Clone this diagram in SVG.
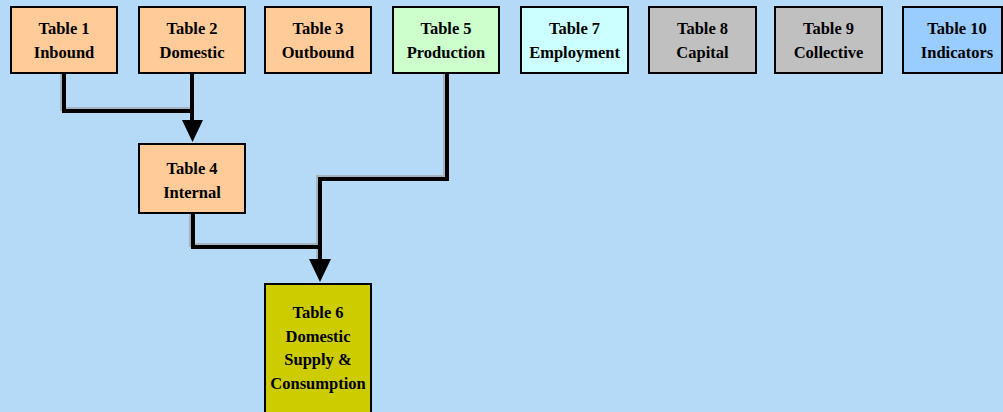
<svg xmlns="http://www.w3.org/2000/svg" width="1003" height="412" viewBox="0 0 1003 412">
<defs>
<style>
.box{stroke:#000;stroke-width:2}
.t{font-family:"Liberation Serif","Times New Roman",serif;font-weight:bold;font-size:16.5px;fill:#000;text-anchor:middle}
.c{fill:none;stroke:#000;stroke-width:4}
.sh{fill:none;stroke:#9a9a9a;stroke-width:4;opacity:0.6}
.o{fill:#FFCC99}
</style>
</defs>
<rect width="1003" height="412" fill="#B4DAF8"/>
<g id="connectors">
<path class="sh" d="M62 74 V109 H190"/>
<path class="sh" d="M191 213 V245 H318"/>
<path class="sh" d="M445 74 V177 H318 V260"/>
<path class="c" d="M64 73 V111 H192"/>
<path class="c" d="M192 73 V122"/>
<polygon points="182,120 203,120 192.5,142" fill="#000"/>
<path class="c" d="M447 73 V179 H320 V262"/>
<path class="c" d="M193 213 V247 H320"/>
<polygon points="309,259 331,259 320,282" fill="#000"/>
</g>
<g id="t1"><rect class="box o" x="11" y="7" width="106" height="66"/><text class="t" x="64" y="34">Table 1</text><text class="t" x="64" y="58">Inbound</text></g>
<g id="t2"><rect class="box o" x="139" y="7" width="106" height="66"/><text class="t" x="192" y="34">Table 2</text><text class="t" x="192" y="58">Domestic</text></g>
<g id="t3"><rect class="box o" x="265" y="7" width="106" height="66"/><text class="t" x="318" y="34">Table 3</text><text class="t" x="318" y="58">Outbound</text></g>
<g id="t5"><rect class="box" fill="#CCFFCC" x="393" y="7" width="106" height="66"/><text class="t" x="446" y="34">Table 5</text><text class="t" x="446" y="58">Production</text></g>
<g id="t7"><rect class="box" fill="#CCFFFF" x="521" y="7" width="107" height="66"/><text class="t" x="574.5" y="34">Table 7</text><text class="t" x="574.5" y="58">Employment</text></g>
<g id="t8"><rect class="box" fill="#C0C0C0" x="649" y="7" width="107" height="66"/><text class="t" x="702.5" y="34">Table 8</text><text class="t" x="702.5" y="58">Capital</text></g>
<g id="t9"><rect class="box" fill="#C0C0C0" x="775" y="7" width="107" height="66"/><text class="t" x="828.5" y="34">Table 9</text><text class="t" x="828.5" y="58">Collective</text></g>
<g id="t10"><rect class="box" fill="#99CCFF" x="903" y="7" width="99" height="66"/><text class="t" x="957" y="34">Table 10</text><text class="t" x="957" y="58">Indicators</text></g>
<g id="t4"><rect class="box o" x="139" y="144" width="106" height="69"/><text class="t" x="192" y="174">Table 4</text><text class="t" x="192" y="198">Internal</text></g>
<g id="t6"><rect class="box" fill="#CCCC00" x="265" y="284" width="106" height="140"/><text class="t" x="318" y="318">Table 6</text><text class="t" x="318" y="342">Domestic</text><text class="t" x="318" y="365">Supply &amp;</text><text class="t" x="318" y="389">Consumption</text></g>
</svg>
